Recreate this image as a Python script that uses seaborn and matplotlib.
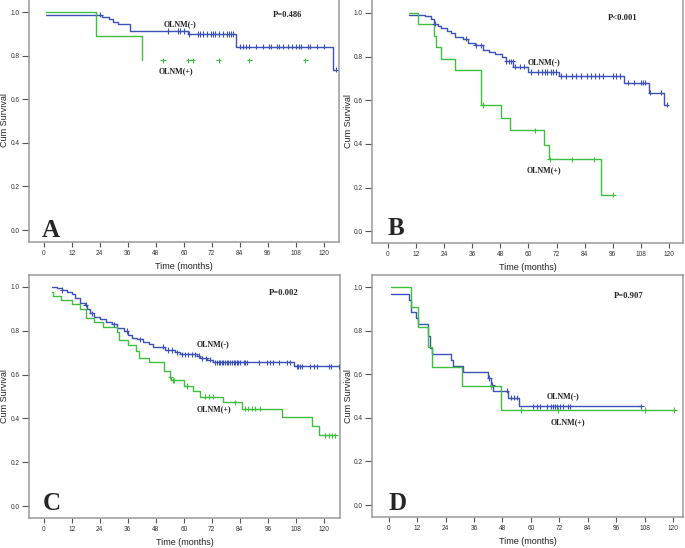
import numpy as np
import pandas as pd
import matplotlib.pyplot as plt
import seaborn as sns

sns.set_style("white")
plt.rcParams['font.family'] = ['Liberation Sans', 'DejaVu Sans']

# ---- Panel A ----
a_neg_t = [1.0, 25.0, 28.0, 29.5, 32.0, 37.0, 61.6, 82.3, 124.1, 125.1]
a_neg_s = [0.988, 0.978, 0.968, 0.955, 0.944, 0.913, 0.899, 0.841, 0.735, 0.735]
a_neg_c = [24.1, 53.1, 57.4, 58.4, 60.1, 62.3, 66.3, 67.0, 68.4, 70.1, 71.6, 72.7, 73.4,
           74.9, 77.0, 78.4, 79.4, 80.3, 81.3, 84.1, 85.3, 86.6, 88.1, 91.0, 94.1, 96.3,
           97.4, 99.9, 101.0, 102.4, 104.6, 106.3, 108.1, 109.4, 110.3, 113.4, 114.1,
           117.0, 119.9, 125.1]
a_pos_t = [1.0, 22.3, 42.3, 42.3]
a_pos_s = [1.0, 0.89, 0.778, 0.778]
a_pos_c = [51.1, 62.0, 63.9, 75.0, 88.1, 112.1]

# ---- Panel B ----
b_neg_t = [8.8, 15.7, 18.5, 19.5, 21.4, 22.8, 25.0, 26.8, 28.5, 32.1, 34.2, 37.1, 40.7,
           43.1, 45.6, 48.5, 50.2, 53.5, 59.9, 73.0, 100.9, 111.3, 117.7, 119.1]
b_neg_s = [0.992, 0.983, 0.97, 0.95, 0.94, 0.93, 0.917, 0.907, 0.89, 0.882, 0.864, 0.852,
           0.83, 0.821, 0.81, 0.80, 0.778, 0.754, 0.729, 0.711, 0.68, 0.635, 0.58, 0.58]
b_neg_c = [19.9, 33.5, 37.5, 39.9, 50.6, 51.6, 52.5, 53.2, 54.2, 56.3, 58.1, 60.9, 63.9,
           65.6, 67.0, 68.0, 69.5, 70.6, 71.7, 73.9, 76.0, 78.5, 80.3, 82.3, 84.9, 86.7,
           88.4, 90.3, 92.0, 96.3, 97.4, 98.9, 102.3, 104.9, 108.0, 108.8, 109.8, 112.0,
           116.7, 119.1]
b_pos_t = [8.8, 12.7, 19.7, 20.7, 22.5, 28.5, 39.8, 48.1, 52.1, 66.6, 68.9, 90.9, 96.3]
b_pos_s = [1.0, 0.947, 0.895, 0.842, 0.79, 0.737, 0.578, 0.52, 0.463, 0.397, 0.33, 0.167, 0.167]
b_pos_c = [40.4, 62.9, 69.2, 78.7, 88.0, 96.3]

# ---- Panel C ----
c_neg_t = [3.4, 5.6, 7.7, 9.9, 12.0, 13.4, 15.6, 17.7, 18.7, 19.9, 21.6, 24.1, 26.7, 29.1,
           31.3, 34.4, 36.0, 37.7, 39.9, 42.7, 44.9, 47.0, 52.0, 56.3, 58.4, 65.6, 67.0,
           69.9, 72.7, 107.0, 126.3]
c_neg_s = [1.0, 0.992, 0.985, 0.977, 0.967, 0.947, 0.927, 0.917, 0.897, 0.879, 0.864,
           0.852, 0.841, 0.829, 0.811, 0.798, 0.78, 0.768, 0.761, 0.75, 0.739, 0.727,
           0.712, 0.702, 0.692, 0.685, 0.674, 0.667, 0.655, 0.638, 0.638]
c_neg_c = [7.9, 17.9, 20.6, 29.9, 35.6, 41.3, 51.3, 53.4, 54.9, 57.0, 59.1, 60.6, 62.0,
           63.4, 64.9, 66.3, 67.7, 69.6, 71.3, 73.4, 74.1, 74.9, 75.6, 76.3, 77.0, 77.7,
           78.4, 79.1, 79.9, 80.6, 81.3, 82.0, 82.7, 83.4, 84.1, 85.6, 86.3, 87.0, 92.0,
           95.6, 97.0, 98.4, 100.6, 104.1, 105.6, 108.4, 109.1, 109.9, 110.6, 114.1,
           115.6, 117.0, 122.0, 123.1, 126.3]
c_pos_t = [3.4, 4.1, 7.4, 12.0, 15.6, 18.1, 21.6, 25.6, 31.3, 32.4, 36.3, 39.6, 40.6, 44.9,
           51.7, 53.9, 54.6, 59.9, 63.9, 67.0, 77.0, 84.9, 102.0, 114.9, 118.1, 124.9]
c_pos_s = [0.977, 0.959, 0.938, 0.92, 0.897, 0.856, 0.838, 0.815, 0.794, 0.758, 0.735,
           0.705, 0.674, 0.655, 0.614, 0.591, 0.573, 0.548, 0.526, 0.50, 0.473, 0.445,
           0.405, 0.364, 0.323, 0.323]
c_pos_c = [54.2, 55.3, 55.9, 61.3, 68.9, 70.6, 72.3, 82.0, 86.3, 87.7, 89.1, 90.6, 92.7,
           120.6, 122.0, 123.4, 124.9]

# ---- Panel D ----
d_neg_t = [0.8, 8.6, 9.4, 11.5, 12.6, 16.7, 17.4, 18.5, 26.3, 27.3, 31.5, 42.0, 43.1, 44.1,
           50.2, 55.1, 106.4]
d_neg_s = [0.971, 0.943, 0.887, 0.859, 0.832, 0.775, 0.723, 0.694, 0.668, 0.639, 0.613,
           0.583, 0.553, 0.525, 0.493, 0.453, 0.453]
d_neg_c = [42.5, 43.7, 49.7, 51.6, 53.0, 54.0, 61.0, 62.4, 63.8, 66.9, 68.4, 69.4, 70.1,
           70.8, 72.2, 73.6, 75.5, 76.5, 106.4]
d_pos_t = [0.8, 9.6, 12.6, 16.7, 18.5, 31.1, 47.2, 120.3]
d_pos_s = [1.0, 0.91, 0.818, 0.727, 0.636, 0.545, 0.436, 0.436]
d_pos_c = [43.1, 55.9, 71.5, 108.0, 120.3]

panels = [
    ("A", "P=0.486", a_neg_t, a_neg_s, a_neg_c, a_pos_t, a_pos_s, a_pos_c),
    ("B", "P<0.001", b_neg_t, b_neg_s, b_neg_c, b_pos_t, b_pos_s, b_pos_c),
    ("C", "P=0.002", c_neg_t, c_neg_s, c_neg_c, c_pos_t, c_pos_s, c_pos_c),
    ("D", "P=0.907", d_neg_t, d_neg_s, d_neg_c, d_pos_t, d_pos_s, d_pos_c),
]

# axes boxes in pixels (left, top, right, bottom) and limits
W, H = 685, 548
boxes = {"A": (29, -1, 339, 242), "B": (372, -1, 683, 243),
         "C": (29, 275, 340, 518), "D": (372, 275, 683, 517)}
xlims = {"A": (-6.3, 126.5), "B": (-6.85, 126.0), "C": (-6.3, 126.9), "D": (-7.0, 124.1)}
ylims = {"A": (-0.055, 1.06), "B": (-0.053, 1.063), "C": (-0.053, 1.053), "D": (-0.055, 1.0565)}
ylab_x = {"A": -0.063, "B": -0.06, "C": -0.063, "D": -0.06}
# text positions (data coords)
txt = {
    "A": dict(L=(3.0, -0.031), P=(104.3, 0.988), neg=(58.4, 0.946), pos=(56.7, 0.73)),
    "B": dict(L=(3.4, -0.017), P=(100.3, 0.976), neg=(66.8, 0.772), pos=(66.7, 0.28)),
    "C": dict(L=(3.5, -0.018), P=(103.0, 0.97), neg=(72.7, 0.74), pos=(72.7, 0.44)),
    "D": dict(L=(3.6, -0.025), P=(101.2, 0.959), neg=(73.4, 0.499), pos=(75.5, 0.38)),
}

blue = "#3d52b8"
green = "#3fbf3f"
spine = "#9a9a9a"
serif = ['Liberation Serif', 'DejaVu Serif']

fig = plt.figure(figsize=(6.85, 5.48), dpi=100)

def surv_at(t, s, times):
    idx = np.searchsorted(t, times, side="right") - 1
    return np.asarray(s)[np.clip(idx, 0, len(s) - 1)]

for name, pval, nt, ns, nc, pt, ps, pc in panels:
    l, t, r, b = boxes[name]
    ax = fig.add_axes([l / W, 1 - b / H, (r - l) / W, (b - t) / H])
    curve = pd.DataFrame({"t": nt + pt, "s": ns + ps,
                          "g": ["neg"] * len(nt) + ["pos"] * len(pt)})
    for g, col in [("neg", blue), ("pos", green)]:
        sub = curve[curve.g == g]
        sns.lineplot(data=sub, x="t", y="s", ax=ax, color=col, lw=1.0,
                     drawstyle="steps-post", estimator=None, sort=False, legend=False)
    cens = pd.DataFrame({"t": nc + pc,
                         "s": np.concatenate([surv_at(nt, ns, nc), surv_at(pt, ps, pc)]),
                         "g": ["neg"] * len(nc) + ["pos"] * len(pc)})
    sns.scatterplot(data=cens, x="t", y="s", hue="g", palette={"neg": blue, "pos": green},
                    marker="+", s=14, linewidth=0.8, ax=ax, legend=False, zorder=3)
    ax.set_xlim(*xlims[name])
    ax.set_ylim(*ylims[name])
    ax.set_xticks(range(0, 121, 12))
    ax.set_yticks([0.0, 0.2, 0.4, 0.6, 0.8, 1.0])
    ax.set_yticklabels(["0.0", "0.2", "0.4", "0.6", "0.8", "1.0"])
    ax.tick_params(axis="x", length=3.5, width=0.8, color="#555555", labelsize=4.7,
                   pad=2, labelcolor="#333333", direction="out", bottom=True)
    ax.tick_params(axis="y", length=5, width=0.8, color="#555555", labelsize=4.7,
                   pad=1.5, labelcolor="#333333", direction="out", left=True)
    for sp in ax.spines.values():
        sp.set_color(spine)
        sp.set_linewidth(1.1)
    ax.set_xlabel("Time (months)", fontsize=6.5, color="#222222")
    ax.set_ylabel("Cum Survival", fontsize=6.5, color="#222222")
    ax.xaxis.set_label_coords(0.5, -20 / (b - t), transform=ax.transAxes)
    ax.yaxis.set_label_coords(ylab_x[name], 0.5, transform=ax.transAxes)
    tp = txt[name]
    ax.text(*tp["L"], name, family=serif, fontsize=18, fontweight="bold",
            ha="center", va="baseline")
    ax.text(*tp["P"], pval, family=serif, fontsize=6.2, fontweight="bold",
            ha="center", va="center")
    ax.text(*tp["neg"], "OLNM(-)", family=serif, fontsize=5.8, fontweight="bold",
            ha="center", va="center", color="#222222")
    ax.text(*tp["pos"], "OLNM(+)", family=serif, fontsize=5.8, fontweight="bold",
            ha="center", va="center", color="#222222")

fig.savefig("out.png", dpi=100)
